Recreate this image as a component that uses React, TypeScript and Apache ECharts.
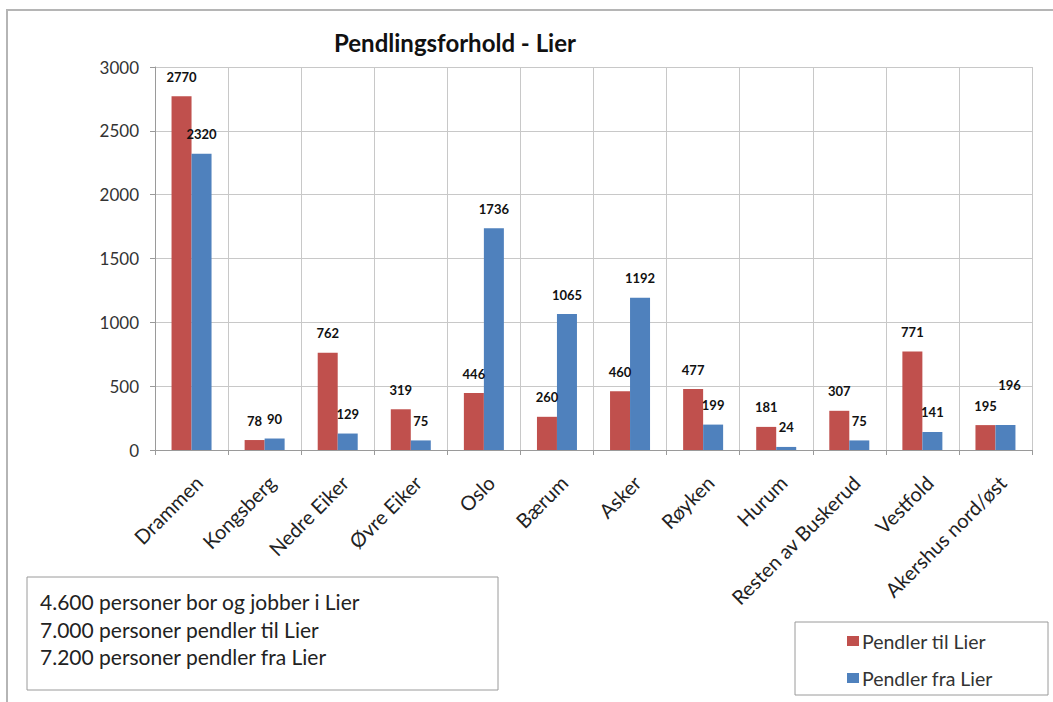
import React, { useEffect, useRef } from "react";
import * as echarts from "echarts";

const categories = [
  "Drammen", "Kongsberg", "Nedre Eiker", "Øvre Eiker", "Oslo", "Bærum",
  "Asker", "Røyken", "Hurum", "Resten av Buskerud", "Vestfold", "Akershus nord/øst",
];
const pendlerTil = [2770, 78, 762, 319, 446, 260, 460, 477, 181, 307, 771, 195];
const pendlerFra = [2320, 90, 129, 75, 1736, 1065, 1192, 199, 24, 75, 141, 196];
const yTicks = { min: 0, max: 3000, interval: 500 };
const noteLines = [
  "4.600 personer bor og jobber i Lier",
  "7.000 personer pendler til Lier",
  "7.200 personer pendler fra Lier",
];
const seriesNames = ["Pendler til Lier", "Pendler fra Lier"];
const titleText = "Pendlingsforhold - Lier";

const FONT = "Lato, 'Open Sans', sans-serif";

export default function App() {
  const ref = useRef<HTMLDivElement>(null);
  useEffect(() => {
    document.body.style.margin = "0";
    const chart = echarts.init(ref.current!, undefined, { renderer: "svg" });
    const labelStyle = {
      show: true,
      position: "top" as const,
      distance: 13,
      fontSize: 13,
      fontWeight: "bold" as const,
      color: "#111",
      fontFamily: FONT,
    };
    const lastIdx = categories.length - 1;
    chart.setOption({
      animation: false,
      backgroundColor: "#fff",
      textStyle: { fontFamily: FONT },
      grid: { left: 155, right: 21, top: 67, bottom: 252, containLabel: false },
      legend: {
        orient: "vertical",
        left: 842,
        top: 626,
        itemWidth: 12,
        itemHeight: 10,
        itemGap: 17,
        icon: "rect",
        textStyle: { fontSize: 19.5, color: "#333", fontFamily: FONT, padding: [0, 0, 0, -2] },
        data: seriesNames,
      },
      xAxis: {
        type: "category",
        data: categories,
        axisLine: { lineStyle: { color: "#9a9a9a" } },
        axisTick: { show: true, length: 5, lineStyle: { color: "#9a9a9a" } },
        splitLine: { show: true, lineStyle: { color: "#c8c8c8" } },
        axisLabel: {
          rotate: 45,
          interval: 0,
          fontSize: 20,
          color: "#222",
          margin: 22,
          verticalAlign: "top",
          fontFamily: FONT,
        },
      },
      yAxis: {
        type: "value",
        min: yTicks.min,
        max: yTicks.max,
        interval: yTicks.interval,
        axisLine: { show: true, lineStyle: { color: "#9a9a9a" } },
        axisTick: { show: true, length: 5, lineStyle: { color: "#9a9a9a" } },
        splitLine: { show: true, lineStyle: { color: "#c8c8c8" } },
        axisLabel: {
          fontSize: 17,
          color: "#333",
          margin: 16,
          fontFamily: FONT,
          formatter: (v: number) => String(v),
        },
      },
      series: [
        {
          name: seriesNames[0],
          type: "bar",
          data: pendlerTil,
          barWidth: 20,
          barGap: "0%",
          itemStyle: { color: "#C0504D" },
          label: labelStyle,
        },
        {
          name: seriesNames[1],
          type: "bar",
          data: pendlerFra.map((v, i) =>
            i === lastIdx ? { value: v, label: { offset: [4, -20] } } : v
          ),
          barWidth: 20,
          itemStyle: { color: "#4F81BD" },
          label: labelStyle,
        },
      ],
      graphic: [
        {
          type: "rect",
          shape: { x: 7, y: 10, width: 1060, height: 700 },
          style: { fill: "none", stroke: "#b5b5b5", lineWidth: 2 },
          silent: true,
        },
        {
          type: "text",
          x: 455,
          y: 30,
          style: {
            text: titleText,
            fontSize: 24,
            fontWeight: "bold",
            fill: "#111",
            fontFamily: FONT,
            textAlign: "center",
          },
        },
        {
          type: "rect",
          shape: { x: 27, y: 577, width: 471, height: 113 },
          style: { fill: "#fff", stroke: "#9a9a9a", lineWidth: 1 },
        },
        ...noteLines.map((t, i) => ({
          type: "text",
          x: 40,
          y: 591 + i * 27.5,
          style: { text: t, fontSize: 21, fill: "#222", fontFamily: FONT },
        })),
        {
          type: "rect",
          shape: { x: 795, y: 622, width: 253, height: 73 },
          style: { fill: "none", stroke: "#9a9a9a", lineWidth: 1 },
        },
      ],
    });
    return () => chart.dispose();
  }, []);
  return <div ref={ref} style={{ width: 1053, height: 702 }} />;
}
